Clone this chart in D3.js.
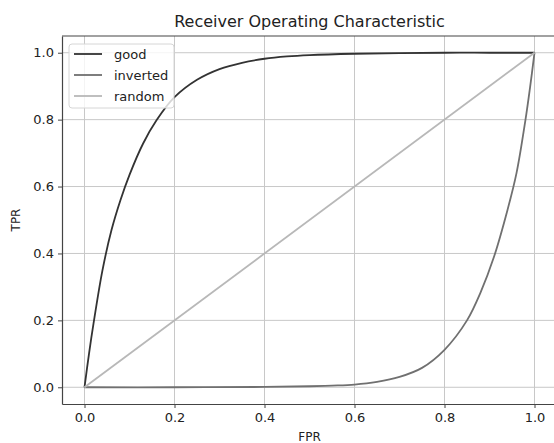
<!DOCTYPE html>
<html>
<head>
<meta charset="utf-8">
<script src="https://cdn.jsdelivr.net/npm/d3@7"></script>
<style>
  body { margin: 0; background: #fff; }
  svg text { font-family: "DejaVu Sans", sans-serif; fill: #222; }
</style>
</head>
<body>
<div id="chart"></div>
<script>
// Values
const goodFpr = [0, 0.01, 0.02, 0.04, 0.06, 0.08, 0.10, 0.13, 0.16, 0.20, 0.25, 0.30, 0.35, 0.40, 0.45, 0.50, 0.60, 0.70, 0.80, 0.90, 1.0];
const goodTpr = [0, 0.10, 0.19, 0.35, 0.47, 0.56, 0.635, 0.728, 0.798, 0.867, 0.919, 0.951, 0.970, 0.982, 0.989, 0.993, 0.997, 0.999, 1.0, 1.0, 1.0];

const invFpr = [0, 0.2, 0.4, 0.5, 0.55, 0.6, 0.65, 0.70, 0.75, 0.80, 0.85, 0.88, 0.91, 0.94, 0.96, 0.98, 0.99, 1.0];
const invTpr = [0, 0, 0.001, 0.003, 0.005, 0.008, 0.016, 0.031, 0.058, 0.112, 0.2, 0.283, 0.39, 0.53, 0.64, 0.8, 0.895, 1.0];

const randFpr = [0, 1];
const randTpr = [0, 1];

const series = [
  { name: "good", x: goodFpr, y: goodTpr, color: "#333333" },
  { name: "inverted", x: invFpr, y: invTpr, color: "#707070" },
  { name: "random", x: randFpr, y: randTpr, color: "#b8b8b8" }
];

const ticks = [0, 0.2, 0.4, 0.6, 0.8, 1.0];

const width = 554, height = 443;
const margin = { left: 62, top: 36, right: -3, bottom: 39 };

const svg = d3.select("#chart").append("svg")
  .attr("width", width)
  .attr("height", height);

const x = d3.scaleLinear().domain([-0.05, 1.05]).range([margin.left, width - margin.right]);
const y = d3.scaleLinear().domain([-0.05, 1.05]).range([height - margin.bottom, margin.top]);

// Grid
svg.append("g").selectAll("line").data(ticks).join("line")
  .attr("x1", d => x(d)).attr("x2", d => x(d))
  .attr("y1", margin.top).attr("y2", height - margin.bottom)
  .attr("stroke", "#c8c8c8").attr("stroke-width", 1);
svg.append("g").selectAll("line").data(ticks).join("line")
  .attr("y1", d => y(d)).attr("y2", d => y(d))
  .attr("x1", margin.left).attr("x2", width - margin.right)
  .attr("stroke", "#c8c8c8").attr("stroke-width", 1);

// Curves
const line = d3.line().curve(d3.curveCatmullRom.alpha(0.5));
svg.append("g").selectAll("path").data(series).join("path")
  .attr("d", s => line(s.x.map((v, i) => [x(v), y(s.y[i])])))
  .attr("fill", "none")
  .attr("stroke", s => s.color)
  .attr("stroke-width", 1.8);

// Axes
const fmt = d3.format(".1f");
const xAxis = svg.append("g")
  .attr("transform", `translate(0,${height - margin.bottom})`)
  .call(d3.axisBottom(x).tickValues(ticks).tickFormat(fmt).tickSize(4).tickSizeOuter(0).tickPadding(5));
const yAxis = svg.append("g")
  .attr("transform", `translate(${margin.left},0)`)
  .call(d3.axisLeft(y).tickValues(ticks).tickFormat(fmt).tickSize(4).tickSizeOuter(0).tickPadding(4));
[xAxis, yAxis].forEach(a => {
  a.select(".domain").attr("stroke", "#444").attr("stroke-width", 1.2);
  a.selectAll(".tick line").attr("stroke", "#444");
  a.selectAll("text").attr("font-size", 13).attr("fill", "#222")
    .style("font-family", "DejaVu Sans, sans-serif");
});

// Top spine
svg.append("line")
  .attr("x1", margin.left).attr("x2", width)
  .attr("y1", margin.top).attr("y2", margin.top)
  .attr("stroke", "#444").attr("stroke-width", 1.2);

// Title and labels
svg.append("text")
  .attr("x", (x(-0.05) + x(1.05)) / 2).attr("y", 27)
  .attr("text-anchor", "middle").attr("font-size", 16)
  .text("Receiver Operating Characteristic");
svg.append("text")
  .attr("x", x(0.5)).attr("y", 441)
  .attr("text-anchor", "middle").attr("font-size", 12)
  .text("FPR");
svg.append("text")
  .attr("transform", `translate(20,${y(0.5)}) rotate(-90)`)
  .attr("text-anchor", "middle").attr("font-size", 12)
  .text("TPR");

// Legend
const lg = svg.append("g").attr("transform", "translate(69,44)");
lg.append("rect")
  .attr("width", 105).attr("height", 64).attr("rx", 3)
  .attr("fill", "#fff").attr("fill-opacity", 0.8)
  .attr("stroke", "#d6d6d6");
const items = lg.selectAll("g.item").data(series).join("g")
  .attr("transform", (d, i) => `translate(0,${10 + i * 21})`);
items.append("line")
  .attr("x1", 5).attr("x2", 33)
  .attr("stroke", d => d.color).attr("stroke-width", 1.8);
items.append("text")
  .attr("x", 45).attr("y", 4.5)
  .attr("font-size", 13)
  .text(d => d.name);
</script>
</body>
</html>
